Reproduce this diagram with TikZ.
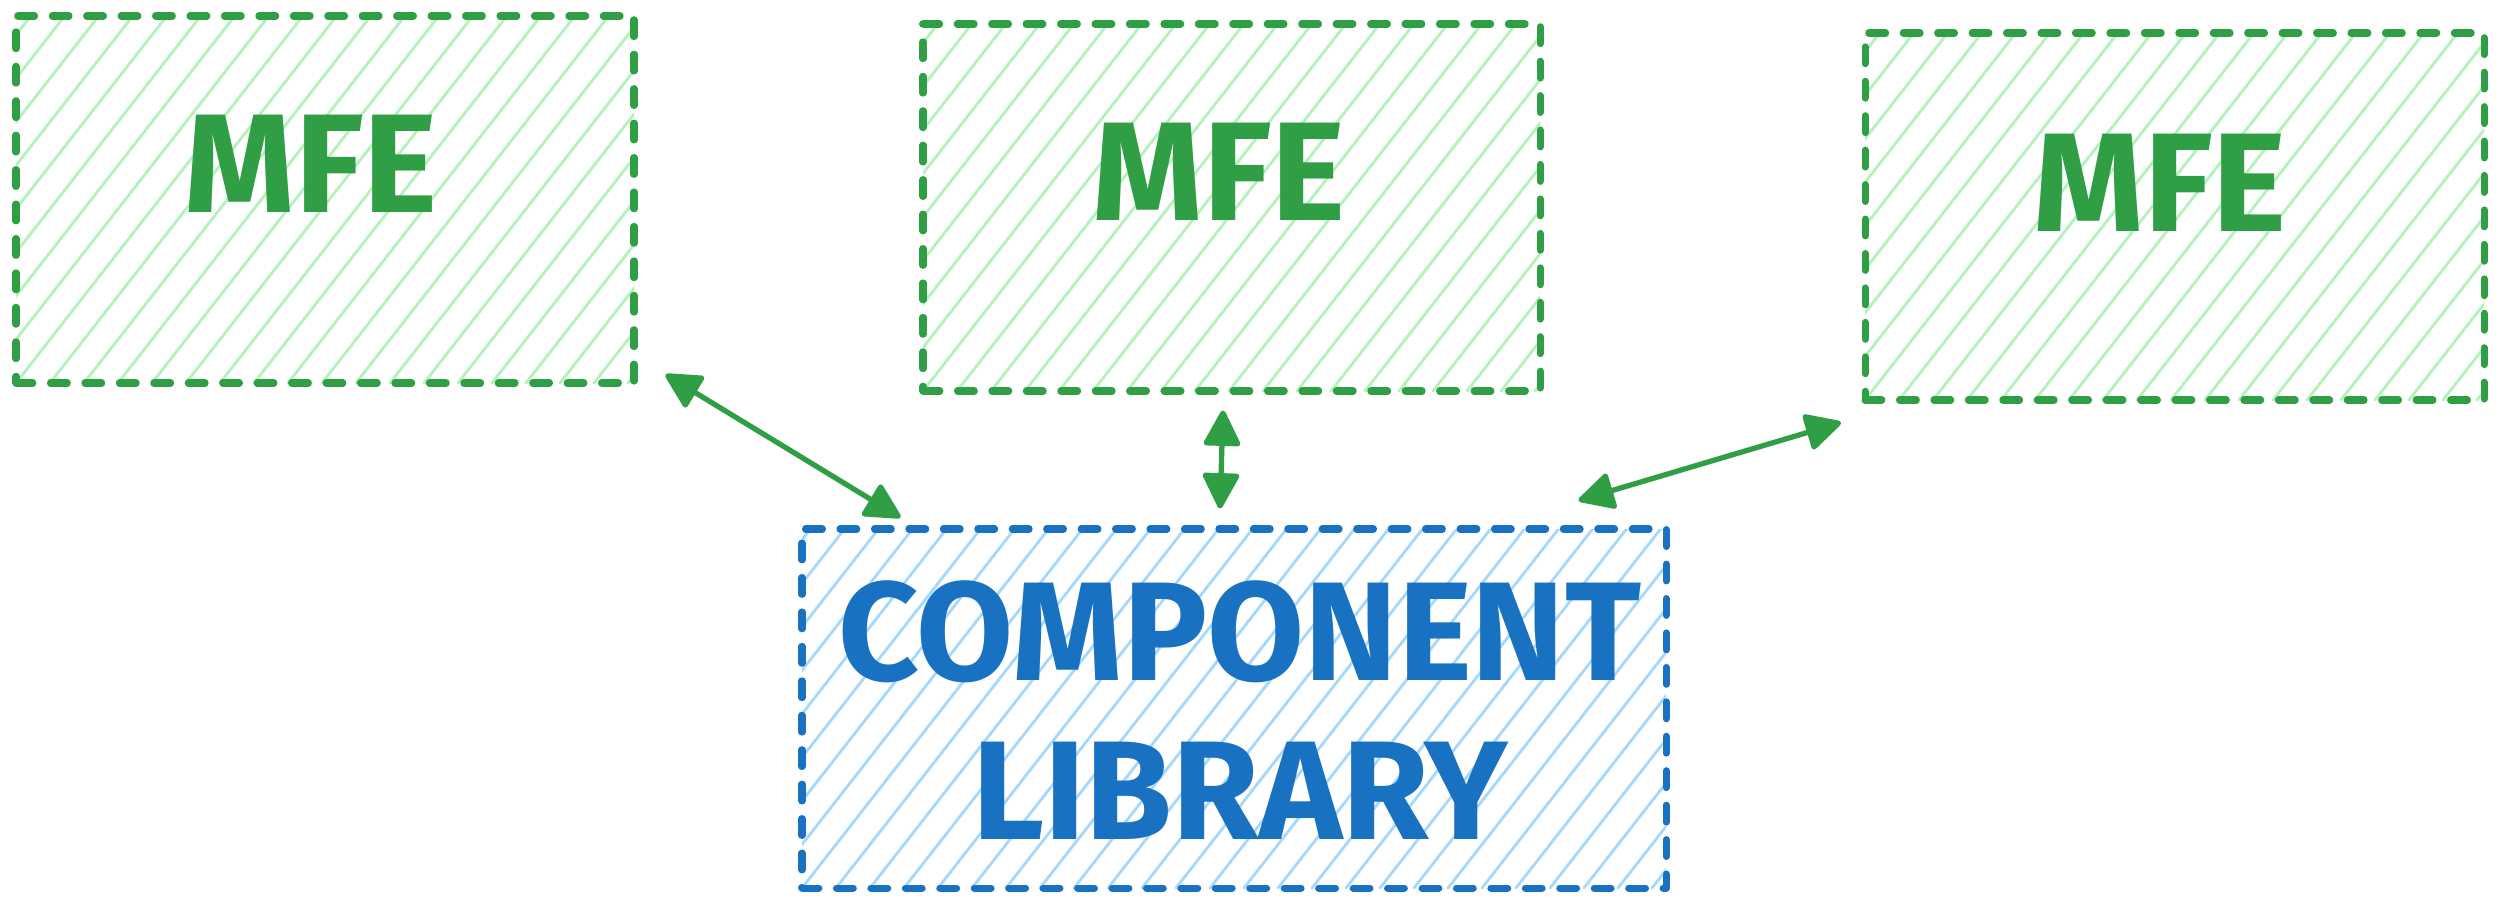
\documentclass[tikz,border=0pt]{standalone}
\usepackage{fontspec}
\setmainfont{Fira Sans}
\usetikzlibrary{arrows.meta,calc}
\definecolor{gstroke}{HTML}{2F9E44}
\definecolor{ghatch}{HTML}{B2F2BB}
\definecolor{bstroke}{HTML}{1971C2}
\definecolor{bhatch}{HTML}{A5D8FF}
\tikzset{
  hatchfill/.style={path picture={
    \foreach \k in {-16,...,32}{
      \draw[#1, solid, line width=0.8pt, line cap=round]
        ([xshift=\k*0.34cm]path picture bounding box.south west) -- ++(52:8cm);
    }}},
  sketchbox/.style={draw=#1stroke, line width=2pt, line cap=round, line join=round,
    dash pattern=on 4.8pt off 5pt, hatchfill=#1hatch, inner sep=0pt},
  label/.style={font=\fontsize{40}{45}\selectfont\bfseries, text=#1stroke, align=center},
  link/.style={draw=gstroke, line width=1.5pt, line cap=round,
    {Triangle[length=11pt,width=11pt,round]}-{Triangle[length=11pt,width=11pt,round]}},
}
\begin{document}
\begin{tikzpicture}
\useasboundingbox (0,0) rectangle (25,9.05);
\node[sketchbox=g, minimum width=6.18cm, minimum height=3.67cm] (b1) at (3.25,7.055) {};
\node[sketchbox=g, minimum width=6.17cm, minimum height=3.67cm] (b2) at (12.315,6.975) {};
\node[sketchbox=g, minimum width=6.19cm, minimum height=3.67cm] (b3) at (21.745,6.885) {};
\node[sketchbox=b, minimum width=8.64cm, minimum height=3.59cm] (b4) at (12.34,1.965) {};
\node[label=g] (t1) at (3.11,7.41) {MFE};
\node[label=g] (t2) at (12.19,7.33) {MFE};
\node[label=g] (t3) at (21.60,7.22) {MFE};
\node[label=b] (t4) at (12.40,1.95) {COMPONENT\\LIBRARY};
\coordinate (a1s) at ($(b1.south east)+(0.28,0.12)$);
\coordinate (a1e) at ($(b4.north west)+(1.02,0.08)$);
\coordinate (a2s) at ($(b2.south)+(-0.085,-0.16)$);
\coordinate (a2e) at ($(b4.north)+(-0.14,0.17)$);
\coordinate (a3s) at ($(b3.south west)+(-0.205,-0.19)$);
\coordinate (a3e) at ($(b4.north east)+(-0.91,0.25)$);
\draw[link] (a1s) -- (a1e);
\draw[link] (a2s) -- (a2e);
\draw[link] (a3s) -- (a3e);
\end{tikzpicture}
\end{document}
